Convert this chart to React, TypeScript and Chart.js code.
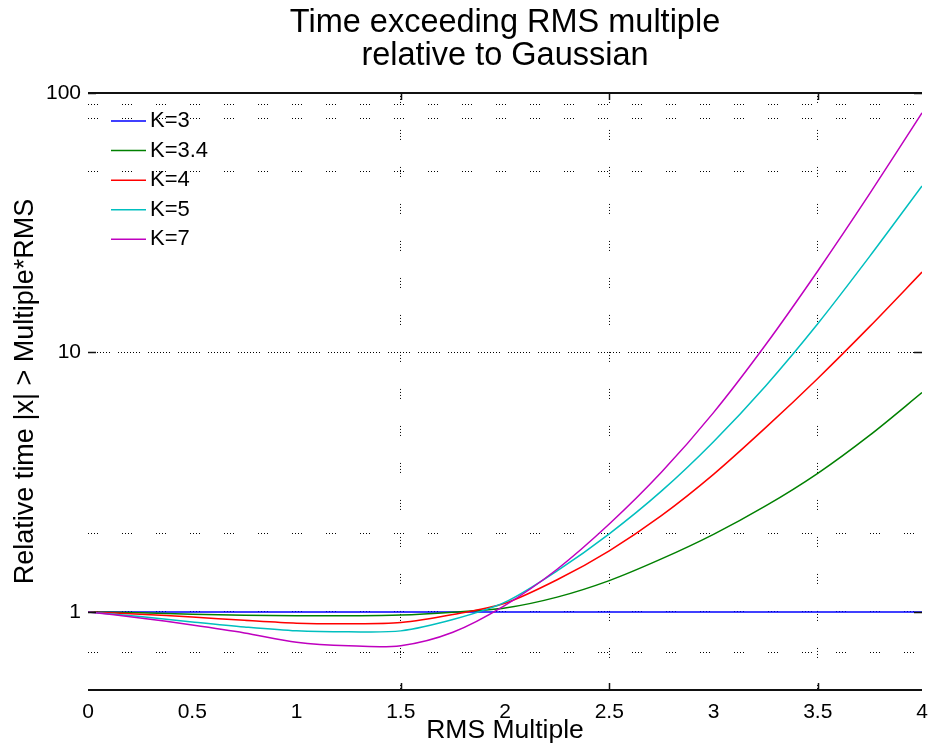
import React, { useEffect, useRef } from 'react';
import { Chart, registerables } from 'chart.js';
Chart.register(...registerables);

const FONT = 'Liberation Sans, Arial, Helvetica, sans-serif';

const rmsMultiple = [0, 0.25, 0.5, 0.75, 1, 1.25, 1.5, 1.75, 2, 2.25, 2.5, 2.75, 3, 3.25, 3.5, 3.75, 4];
const k3 = [1, 1, 1, 1, 1, 1, 1, 1, 1, 1, 1, 1, 1, 1, 1, 1, 1];
const k34 = [1, 0.993, 0.98, 0.97, 0.967, 0.966, 0.972, 0.997, 1.035, 1.14, 1.32, 1.6, 1.99, 2.56, 3.42, 4.8, 7.0];
const k4 = [1, 0.98, 0.955, 0.928, 0.905, 0.9, 0.91, 0.977, 1.08, 1.33, 1.72, 2.35, 3.39, 5.13, 7.94, 12.6, 20.4];
const k5 = [1, 0.96, 0.915, 0.875, 0.845, 0.838, 0.845, 0.934, 1.09, 1.44, 2.0, 2.92, 4.53, 7.43, 12.9, 23.5, 43.8];
const k7 = [1, 0.948, 0.89, 0.83, 0.764, 0.74, 0.741, 0.835, 1.06, 1.46, 2.18, 3.45, 5.86, 10.7, 20.6, 41.0, 83.8];

const seriesLabels = ['K=3', 'K=3.4', 'K=4', 'K=5', 'K=7'];
const seriesValues = [k3, k34, k4, k5, k7];
const seriesColors = ['#0000FF', '#008000', '#FF0000', '#00BFBF', '#BF00BF'];

const xTickValues = [0, 0.5, 1, 1.5, 2, 2.5, 3, 3.5, 4];
const xGridVisible = [1.5, 2.5, 3.5];
const yGridValues = [0.7, 1, 2, 10, 50, 80, 90, 100];
const yLabelValues = [1, 10, 100];

const titleLines = ['Time exceeding RMS multiple', 'relative to Gaussian'];
const xTitle = 'RMS Multiple';
const yTitle = 'Relative time |x| > Multiple*RMS';

const framePlugin = {
  id: 'frame',
  afterDatasetsDraw(chart: any) {
    const { ctx, chartArea } = chart;
    const { left, right, top, bottom } = chartArea;
    const xs = chart.scales.x;
    const ys = chart.scales.y;
    ctx.save();
    ctx.strokeStyle = '#111';
    ctx.lineWidth = 2;
    ctx.setLineDash([]);
    ctx.beginPath();
    ctx.moveTo(left, bottom);
    ctx.lineTo(right, bottom);
    ctx.moveTo(left, top);
    ctx.lineTo(right, top);
    ctx.stroke();
    ctx.lineWidth = 1.5;
    ctx.beginPath();
    xGridVisible.forEach((v) => {
      const px = Math.round(xs.getPixelForValue(v)) + 0.5;
      ctx.moveTo(px, bottom);
      ctx.lineTo(px, bottom - 7);
      ctx.moveTo(px, top);
      ctx.lineTo(px, top + 7);
    });
    yLabelValues.forEach((v) => {
      const py = Math.round(ys.getPixelForValue(v)) + 0.5;
      ctx.moveTo(left, py);
      ctx.lineTo(left + 8, py);
      ctx.moveTo(right, py);
      ctx.lineTo(right - 8, py);
    });
    ctx.stroke();

    // legend
    ctx.font = `22px ${FONT}`;
    ctx.textBaseline = 'middle';
    ctx.textAlign = 'left';
    chart.data.datasets.forEach((ds: any, i: number) => {
      const y = top + 28 + i * 29.6;
      ctx.strokeStyle = ds.borderColor;
      ctx.lineWidth = 1.5;
      ctx.beginPath();
      ctx.moveTo(left + 23, y);
      ctx.lineTo(left + 58, y);
      ctx.stroke();
      ctx.fillStyle = '#000';
      ctx.fillText(ds.label, left + 62, y);
    });
    ctx.restore();
  },
};

export default function App() {
  const ref = useRef<HTMLCanvasElement>(null);
  useEffect(() => {
    const datasets = seriesLabels.map((label, i) => ({
      label,
      data: rmsMultiple.map((x, j) => ({ x, y: seriesValues[i][j] })),
      borderColor: seriesColors[i],
      backgroundColor: seriesColors[i],
      borderWidth: 1.5,
      pointRadius: 0,
      fill: false,
      tension: 0.3,
      order: seriesLabels.length - i,
    }));
    const chart = new Chart(ref.current!, {
      type: 'line',
      data: { datasets },
      plugins: [framePlugin],
      options: {
        animation: false,
        responsive: false,
        maintainAspectRatio: false,
        layout: { padding: { left: 0, right: 8, top: 0, bottom: 0 } },
        plugins: {
          legend: { display: false },
          tooltip: { enabled: false },
          title: {
            display: true,
            text: titleLines,
            fullSize: false,
            color: '#000',
            font: { family: FONT, size: 32.5, weight: 'normal', lineHeight: 1.03 },
            padding: { top: 6, bottom: 20 },
          },
        },
        scales: {
          x: {
            type: 'linear',
            min: 0,
            max: 4,
            afterBuildTicks: (s: any) => {
              s.ticks = xTickValues.map((v) => ({ value: v }));
            },
            afterFit: (s: any) => {
              s.height = 57;
              s.paddingLeft = 0;
              s.paddingRight = 0;
            },
            ticks: {
              autoSkip: false,
              maxRotation: 0,
              padding: 10,
              color: '#000',
              font: { family: FONT, size: 21 },
              callback: (v: any) => String(v),
            },
            grid: {
              drawTicks: false,
              lineWidth: 1,
              color: (c: any) => (c.tick && xGridVisible.includes(c.tick.value) ? '#000' : 'rgba(0,0,0,0)'),
            },
            border: { display: false, dash: [1, 2, 1, 2, 1, 2, 1, 27] },
            title: {
              display: true,
              text: xTitle,
              color: '#000',
              font: { family: FONT, size: 26.5, lineHeight: 1.2 },
              padding: { top: 0, bottom: 0 },
            },
          },
          y: {
            type: 'logarithmic',
            min: 0.5,
            max: 100,
            afterBuildTicks: (s: any) => {
              s.ticks = yGridValues.map((v) => ({ value: v }));
            },
            afterFit: (s: any) => {
              s.width = 88;
              s.paddingTop = 0;
              s.paddingBottom = 0;
            },
            ticks: {
              autoSkip: false,
              padding: 7,
              color: '#000',
              font: { family: FONT, size: 21 },
              callback: (v: any) => (yLabelValues.includes(Number(v)) ? String(v) : ''),
            },
            grid: {
              drawTicks: false,
              lineWidth: 1,
              color: (c: any) => (c.tick && c.tick.value === 100 ? 'rgba(0,0,0,0)' : '#000'),
            },
            border: {
              display: false,
              dash: (c: any) =>
                c.tick && c.tick.value === 10 ? [1, 2, 1, 2, 1, 2, 1, 2, 1, 2, 1, 2, 1, 2, 1, 8] : [1, 2, 1, 2, 1, 2, 1, 24],
            },
            title: {
              display: true,
              text: yTitle,
              color: '#000',
              font: { family: FONT, size: 27, lineHeight: 1.2 },
              padding: { top: 9, bottom: 0 },
            },
          },
        },
      },
    } as any);
    return () => chart.destroy();
  }, []);
  return (
    <div style={{ position: 'fixed', left: 0, top: 0, width: 930, height: 747, background: '#fff' }}>
      <canvas ref={ref} width={930} height={747} style={{ display: 'block', width: 930, height: 747 }} />
    </div>
  );
}
